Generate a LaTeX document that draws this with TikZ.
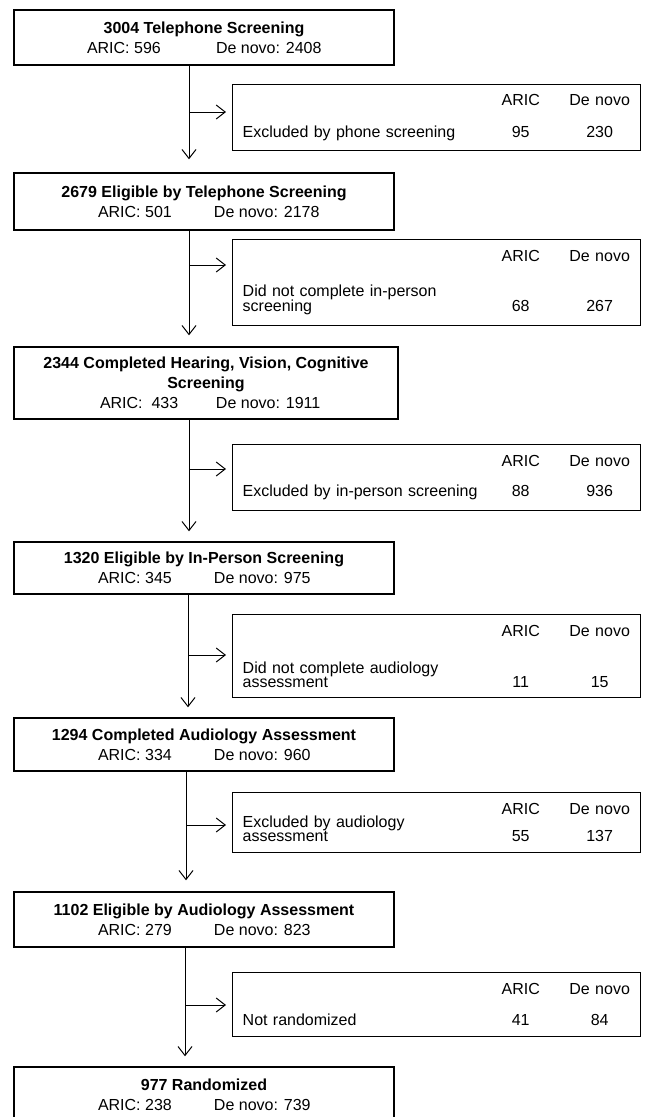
\documentclass[tikz,border=0pt]{standalone}
\usepackage{fontspec}
\setmainfont{Liberation Sans}
\usetikzlibrary{arrows.meta,calc}

\tikzset{
  mainbox/.style={draw, line width=1.4pt, minimum width=380pt, inner sep=0pt,
    align=center, font=\fontsize{16}{20}\selectfont},
  exclbox/.style={draw, line width=1.4pt, anchor=north west, text width=388pt,
    inner xsep=10pt, inner ysep=0pt, align=left,
    font=\fontsize{16}{14}\selectfont},
  flow/.style={-{Straight Barb[length=9pt,width=14pt]}, line width=1pt},
}
\newcommand{\armline}[4]{\makebox[#1][l]{\makebox[#2][l]{ARIC: #3}De novo: #4}}
\newcommand{\exclhead}[1]{\makebox[248pt]{}\makebox[60pt]{ARIC}\hspace{19pt}\makebox[60pt]{De novo}\\[#1]}
\newcommand{\exclrow}[3]{\parbox[b]{248pt}{#1}\makebox[60pt]{#2}\hspace{19pt}\makebox[60pt]{#3}}

\begin{document}
\begin{tikzpicture}[x=1pt,y=-1pt]
\useasboundingbox (0,0) rectangle (646,1117);
\clip (0,0) rectangle (646,1117);

% main steps
\node[mainbox, minimum height=55pt] (b1) at (204,37.5)
  {\textbf{3004 Telephone Screening}\\ \armline{234pt}{129pt}{596}{2408}};
\node[mainbox, minimum height=57pt] (b2) at (204,201.5)
  {\textbf{2679 Eligible by Telephone Screening}\\ \armline{212pt}{116pt}{501}{2178}};
\node[mainbox, minimum height=72pt, minimum width=384pt] (b3) at (206,383)
  {\textbf{2344 Completed Hearing, Vision, Cognitive}\\ \textbf{Screening}\\ \armline{212pt}{116pt}{\ 433}{1911}};
\node[mainbox, minimum height=52pt] (b4) at (204,568)
  {\textbf{1320 Eligible by In-Person Screening}\\ \armline{212pt}{116pt}{345}{975}};
\node[mainbox, minimum height=53pt] (b5) at (204,744.5)
  {\textbf{1294 Completed Audiology Assessment}\\ \armline{212pt}{116pt}{334}{960}};
\node[mainbox, minimum height=55pt] (b6) at (204,919.5)
  {\textbf{1102 Eligible by Audiology Assessment}\\ \armline{212pt}{116pt}{279}{823}};
\node[mainbox, minimum height=56pt] (b7) at (204,1095)
  {\textbf{977 Randomized}\\ \armline{212pt}{116pt}{238}{739}};

% exclusions
\node[exclbox, minimum height=66pt] (e1) at (232,84)
  {\exclhead{18pt}\exclrow{Excluded by phone screening}{95}{230}};
\node[exclbox, minimum height=86pt] (e2) at (232,239)
  {\exclhead{22pt}\exclrow{Did not complete in-person\\screening}{68}{267}};
\node[exclbox, minimum height=66pt] (e3) at (232,444)
  {\exclhead{16pt}\exclrow{Excluded by in-person screening}{88}{936}};
\node[exclbox, minimum height=83pt] (e4) at (232,614)
  {\exclhead{24pt}\exclrow{Did not complete audiology\\assessment}{11}{15}};
\node[exclbox, minimum height=60pt] (e5) at (232,792)
  {\exclhead{0pt}\exclrow{Excluded by audiology\\assessment}{55}{137}};
\node[exclbox, minimum height=64pt] (e6) at (232,972)
  {\exclhead{17pt}\exclrow{Not randomized}{41}{84}};

% junctions on the spine
\coordinate (j1) at (189,112);
\coordinate (j2) at (189,265);
\coordinate (j3) at (189,469);
\coordinate (j4) at (188,655);
\coordinate (j5) at (186,825);
\coordinate (j6) at (185,1005);

\draw[flow, shorten >=13pt] (b1.south -| j1) -- (b2.north -| j1);
\draw[flow, shorten >=11pt] (b2.south -| j2) -- (b3.north -| j2);
\draw[flow, shorten >=10pt] (b3.south -| j3) -- (b4.north -| j3);
\draw[flow, shorten >=10pt] (b4.south -| j4) -- (b5.north -| j4);
\draw[flow, shorten >=11pt] (b5.south -| j5) -- (b6.north -| j5);
\draw[flow, shorten >=10pt] (b6.south -| j6) -- (b7.north -| j6);

\draw[flow, shorten >=6pt] (j1) -- (j1 -| e1.west);
\draw[flow, shorten >=6pt] (j2) -- (j2 -| e2.west);
\draw[flow, shorten >=6pt] (j3) -- (j3 -| e3.west);
\draw[flow, shorten >=6pt] (j4) -- (j4 -| e4.west);
\draw[flow, shorten >=6pt] (j5) -- (j5 -| e5.west);
\draw[flow, shorten >=6pt] (j6) -- (j6 -| e6.west);
\end{tikzpicture}
\end{document}
